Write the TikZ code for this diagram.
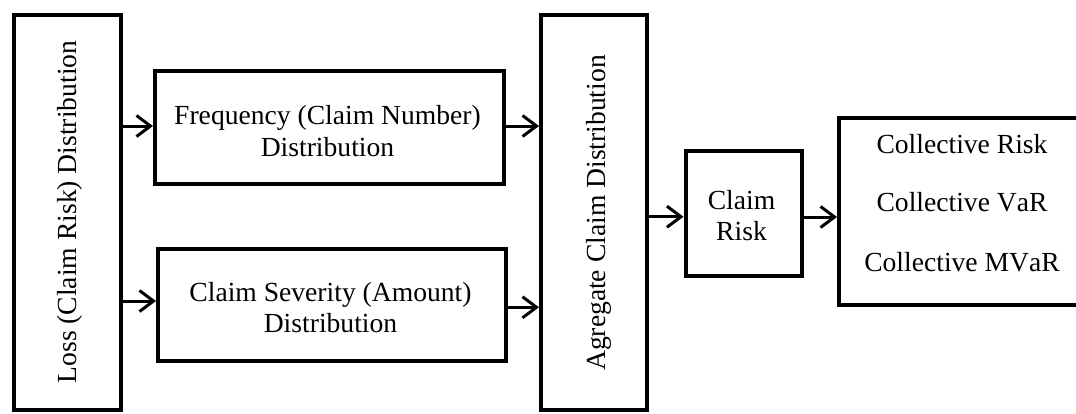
\documentclass[tikz,border=0pt]{standalone}
\usepackage{fontspec}
\setmainfont{Liberation Serif}[Kerning=Off]
\usetikzlibrary{arrows.meta}
\begin{document}
\begin{tikzpicture}[x=1pt,y=-1pt,
  box/.style={draw, line width=4pt, inner sep=0pt},
  txt/.style={font=\fontsize{27.6}{31.7}\selectfont, align=center, inner sep=0pt},
  arr/.style={line width=3pt, -{Straight Barb[length=14pt,width=21pt]}}]
\useasboundingbox (0,0) rectangle (1076,413);
\clip (0,0) rectangle (1076,413);
% boxes
\node[box, minimum width=107pt, minimum height=394.5pt] (lb) at (67.5,212.25) {};
\node[box, minimum width=349pt, minimum height=113pt] (fr) at (329.5,127.5) {};
\node[box, minimum width=348pt, minimum height=112pt] (sv) at (332,305) {};
\node[box, minimum width=106pt, minimum height=394.5pt] (ag) at (594,212.25) {};
\node[box, minimum width=116.5pt, minimum height=124.2pt] (cr) at (743.75,213.4) {};
\node[box, minimum width=246pt, minimum height=186.7pt] (rb) at (962,211.65) {};
% texts
\node[txt, rotate=90, anchor=base] (lt) at (76.5,212) {Loss (Claim Risk) Distribution};
\node[txt, rotate=90, anchor=base] (at) at (605,213) {Agregate Claim Distribution};
\node[txt] (ft) at (327.5,131) {Frequency (Claim Number)\\Distribution};
\node[txt] (st) at (330.5,307.6) {Claim Severity (Amount)\\Distribution};
\node[txt] (ct) at (741.5,215.5) {Claim\\Risk};
\node[txt, anchor=base] (r1) at (962,153.3) {Collective Risk};
\node[txt, anchor=base] (r2) at (962,211.7) {Collective VaR};
\node[txt, anchor=base] (r3) at (962,271.7) {Collective MVaR};
% connectors
\coordinate (e1) at ([yshift=1.5pt]fr.west);
\coordinate (e2) at ([yshift=4pt]sv.west);
\coordinate (s3) at ([yshift=1.5pt]fr.east);
\coordinate (s4) at ([yshift=-2.3pt]sv.east);
\coordinate (s5) at ([yshift=-3.3pt]ag.east -| ag.east);
\coordinate (e5) at ([yshift=-3.3pt]cr.west);
\coordinate (s6) at ([yshift=-3.6pt]cr.east);
\draw[arr] (lb.east |- e1) -- (e1);
\draw[arr] (lb.east |- e2) -- (e2);
\draw[arr] (s3) -- (ag.west |- s3);
\draw[arr] (s4) -- (ag.west |- s4);
\draw[arr] (ag.east |- e5) -- (e5);
\draw[arr] (s6) -- (rb.west |- s6);
\end{tikzpicture}
\end{document}
